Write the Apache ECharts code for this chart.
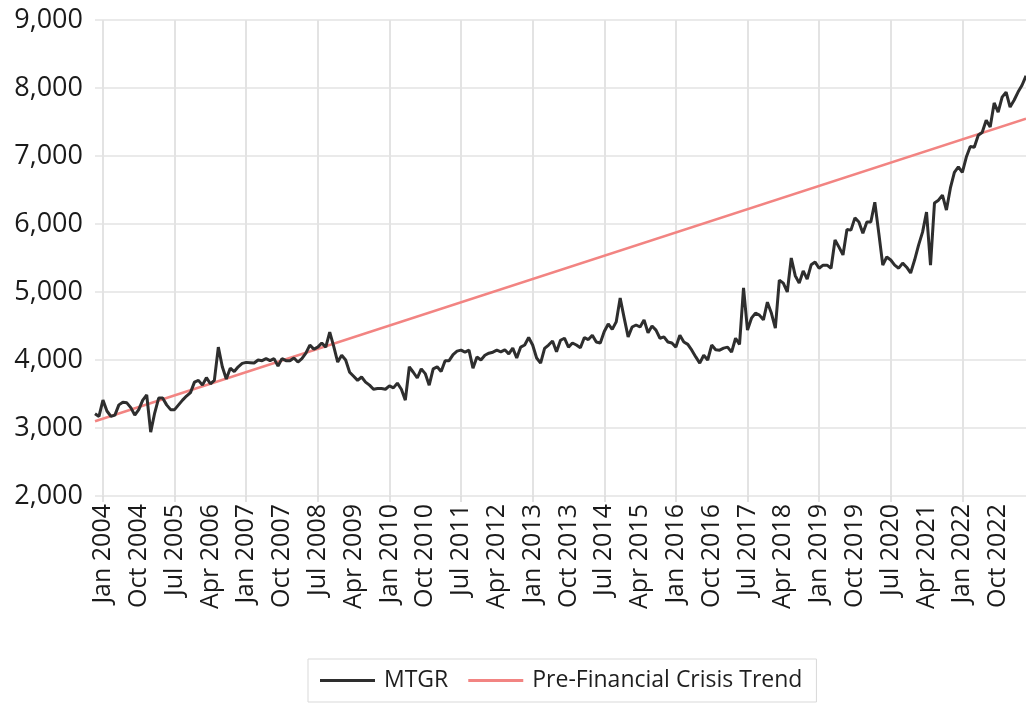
<!DOCTYPE html>
<html>
<head>
<meta charset="utf-8">
<script src="https://cdn.jsdelivr.net/npm/echarts@6/dist/echarts.min.js"></script>
<style>
html,body{margin:0;padding:0;background:#fff;}
#chart{width:1026px;height:706px;}
</style>
</head>
<body>
<div id="chart"></div>
<script>
// First month of the series (Nov 2003), monthly data
const startYear = 2003;
const startMonth = 10; // 0-based: November
const monthNames = ['Jan','Feb','Mar','Apr','May','Jun','Jul','Aug','Sep','Oct','Nov','Dec'];

// MTGR monthly values, Nov 2003 .. May 2023
const mtgr = [
  3210,3170,3410,3250,3170,3190,3340,3380,3370,3300,3190,3270,
  3410,3485,2940,3220,3440,3440,3340,3270,3270,3340,3410,3470,
  3520,3675,3700,3630,3740,3650,3700,4190,3900,3720,3880,3830,
  3900,3950,3965,3960,3955,4000,3990,4020,3990,4020,3910,4020,
  3990,3990,4030,3970,4020,4100,4220,4160,4190,4250,4190,4410,
  4200,3970,4070,4000,3820,3760,3700,3750,3675,3630,3570,3580,
  3580,3570,3620,3590,3660,3570,3410,3900,3820,3735,3870,3800,
  3630,3870,3900,3830,3990,3990,4080,4130,4145,4115,4145,3880,
  4045,4000,4070,4100,4115,4145,4120,4150,4090,4175,4030,4190,
  4220,4330,4220,4030,3955,4170,4220,4280,4120,4290,4320,4190,
  4250,4220,4180,4330,4300,4365,4265,4250,4420,4530,4450,4560,
  4910,4620,4340,4485,4515,4485,4590,4400,4500,4440,4320,4340,
  4265,4250,4190,4365,4265,4230,4145,4045,3955,4070,4000,4220,
  4150,4145,4175,4190,4115,4320,4230,5060,4440,4615,4690,4660,
  4590,4850,4690,4470,5175,5130,5000,5500,5240,5130,5310,5190,
  5400,5440,5350,5395,5395,5350,5765,5660,5545,5920,5910,6090,
  6030,5865,6030,6030,6320,5865,5395,5515,5470,5395,5350,5425,
  5365,5280,5470,5690,5880,6175,5395,6310,6350,6425,6205,6530,
  6760,6840,6760,6985,7140,7130,7305,7350,7525,7425,7780,7645,
  7865,7940,7720,7820,7940,8040,8180
];

// Pre-financial-crisis trend: straight line, start and end values
const trendEnds = [3100, 7550];

// Axis settings
const yTicks = [2000, 3000, 4000, 5000, 6000, 7000, 8000, 9000];
const firstLabelIndex = 2;   // Jan 2004
const labelEvery = 9;        // months between labels
const gridEvery = 18;        // months between vertical grid lines

const categories = mtgr.map((_, i) => {
  const m = startMonth + i;
  const y = startYear + Math.floor(m / 12);
  return monthNames[m % 12] + ' ' + y;
});

const trend = mtgr.map((_, i) => i === 0 ? trendEnds[0] : (i === mtgr.length - 1 ? trendEnds[1] : null));

const chart = echarts.init(document.getElementById('chart'));
chart.setOption({
  animation: false,
  backgroundColor: '#ffffff',
  textStyle: { fontFamily: 'Open Sans' },
  grid: { left: 95, right: 0, top: 20, bottom: 210, containLabel: false },
  legend: {
    left: 308, top: 659,
    padding: [10, 14, 10, 12],
    borderColor: '#d9d9d9', borderWidth: 1,
    itemWidth: 55, itemHeight: 3, itemGap: 20,
    icon: 'rect',
    textStyle: { fontFamily: 'Open Sans', fontSize: 23, color: '#1f1f1f', padding: [0, 0, 0, 4] },
    data: ['MTGR', 'Pre-Financial Crisis Trend']
  },
  xAxis: {
    type: 'category',
    data: categories,
    boundaryGap: false,
    axisLine: { show: false },
    axisTick: {
      show: true, length: 6,
      interval: (i) => i >= firstLabelIndex && (i - firstLabelIndex) % gridEvery === 0,
      lineStyle: { color: '#d9d9d9', width: 1.5 }
    },
    splitLine: {
      show: true,
      interval: (i) => i >= firstLabelIndex && (i - firstLabelIndex) % gridEvery === 0,
      lineStyle: { color: '#e3e3e3', width: 2 }
    },
    axisLabel: {
      rotate: 90,
      margin: 8,
      fontFamily: 'Open Sans',
      fontSize: 25,
      color: '#1a1a1a',
      interval: (i) => i >= firstLabelIndex && (i - firstLabelIndex) % labelEvery === 0
    }
  },
  yAxis: {
    type: 'value',
    min: yTicks[0], max: yTicks[yTicks.length - 1], interval: 1000,
    axisLine: { show: false },
    axisTick: { show: false },
    splitLine: { show: true, lineStyle: { color: '#e3e3e3', width: 1.5 } },
    axisLabel: {
      margin: 12,
      fontFamily: 'Open Sans',
      fontSize: 27,
      color: '#1a1a1a',
      formatter: (v) => v.toLocaleString('en-US')
    }
  },
  series: [
    {
      name: 'MTGR', type: 'line', data: mtgr,
      showSymbol: false, symbol: 'none',
      lineStyle: { color: '#2e2e2e', width: 3 },
      itemStyle: { color: '#2e2e2e' },
      z: 3
    },
    {
      name: 'Pre-Financial Crisis Trend', type: 'line', data: trend,
      connectNulls: true,
      showSymbol: false, symbol: 'none',
      lineStyle: { color: '#f28482', width: 2.5 },
      itemStyle: { color: '#f28482' },
      z: 2
    }
  ]
});
</script>
</body>
</html>
